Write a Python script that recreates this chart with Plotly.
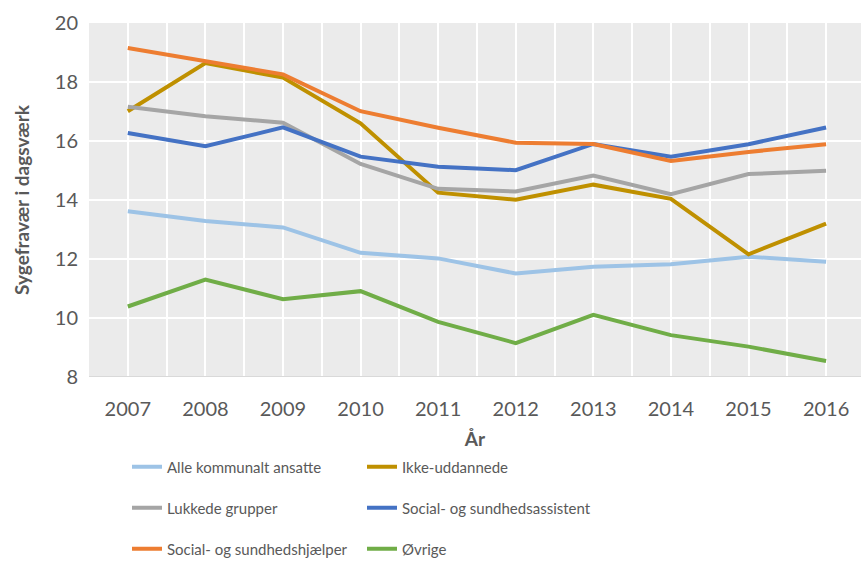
import plotly.graph_objects as go

years = [2007, 2008, 2009, 2010, 2011, 2012, 2013, 2014, 2015, 2016]

alle_kommunalt = [13.62, 13.29, 13.07, 12.21, 12.02, 11.51, 11.74, 11.82, 12.08, 11.91]
ikke_uddannede = [17.01, 18.64, 18.15, 16.60, 14.25, 14.01, 14.52, 14.04, 12.16, 13.20]
lukkede_grupper = [17.16, 16.84, 16.62, 15.22, 14.38, 14.29, 14.83, 14.20, 14.88, 14.99]
sosu_assistent = [16.27, 15.82, 16.46, 15.47, 15.13, 15.01, 15.90, 15.47, 15.89, 16.46]
sosu_hjaelper = [19.15, 18.72, 18.26, 17.01, 16.45, 15.94, 15.90, 15.32, 15.63, 15.89]
oevrige = [10.39, 11.30, 10.64, 10.91, 9.87, 9.15, 10.11, 9.42, 9.03, 8.54]

FONT = "Lato"
GREY_TXT = "#595959"

series = [
    ("Alle kommunalt ansatte", alle_kommunalt, "#9DC3E6", "legend"),
    ("Ikke-uddannede", ikke_uddannede, "#BF9000", "legend"),
    ("Lukkede grupper", lukkede_grupper, "#A5A5A5", "legend2"),
    ("Social- og sundhedsassistent", sosu_assistent, "#4472C4", "legend2"),
    ("Social- og sundhedshjælper", sosu_hjaelper, "#ED7D31", "legend3"),
    ("Øvrige", oevrige, "#70AD47", "legend3"),
]

fig = go.Figure()
for name, vals, color, leg in series:
    fig.add_trace(
        go.Scatter(
            x=years,
            y=vals,
            mode="lines",
            name=name,
            line=dict(color=color, width=4),
            legend=leg,
        )
    )

legend_style = dict(
    orientation="h",
    xref="container",
    yref="container",
    x=127 / 861,
    xanchor="left",
    yanchor="middle",
    entrywidth=190,
    entrywidthmode="pixels",
    font=dict(family=FONT, size=15, color=GREY_TXT),
    bgcolor="rgba(0,0,0,0)",
)

fig.update_layout(
    width=861,
    height=561,
    margin=dict(l=89, r=0, t=23, b=184),
    paper_bgcolor="white",
    plot_bgcolor="#EBEBEB",
    font=dict(family=FONT, color=GREY_TXT),
    legend=dict(legend_style, y=1 - 467 / 561),
    legend2=dict(legend_style, y=1 - 508 / 561),
    legend3=dict(legend_style, y=1 - 549 / 561),
    xaxis=dict(
        range=[2006.5, 2016.45],
        tickmode="array",
        tickvals=years,
        ticktext=[str(y) for y in years],
        tickfont=dict(size=20, color=GREY_TXT),
        showgrid=True,
        gridcolor="white",
        gridwidth=2,
        minor=dict(dtick=0.5, tick0=2006.5, showgrid=True, gridcolor="white", gridwidth=1.5),
        ticks="outside",
        ticklen=14,
        tickcolor="rgba(0,0,0,0)",
        showline=False,
        zeroline=False,
        title=dict(text="<b>År</b>", font=dict(size=19, color=GREY_TXT), standoff=16),
    ),
    yaxis=dict(
        range=[8, 20],
        dtick=2,
        tickfont=dict(size=20, color=GREY_TXT),
        showgrid=True,
        gridcolor="white",
        gridwidth=2,
        ticks="outside",
        ticklen=6,
        tickcolor="rgba(0,0,0,0)",
        zeroline=False,
        title=dict(text="<b>Sygefravær i dagsværk</b>", font=dict(size=19, color=GREY_TXT), standoff=20),
    ),
)

fig.add_hline(y=8, line=dict(color="#D9D9D9", width=2))

fig.write_html(
    "out.html",
    config={"displayModeBar": False},
    post_script="document.body.style.margin='0';",
)
